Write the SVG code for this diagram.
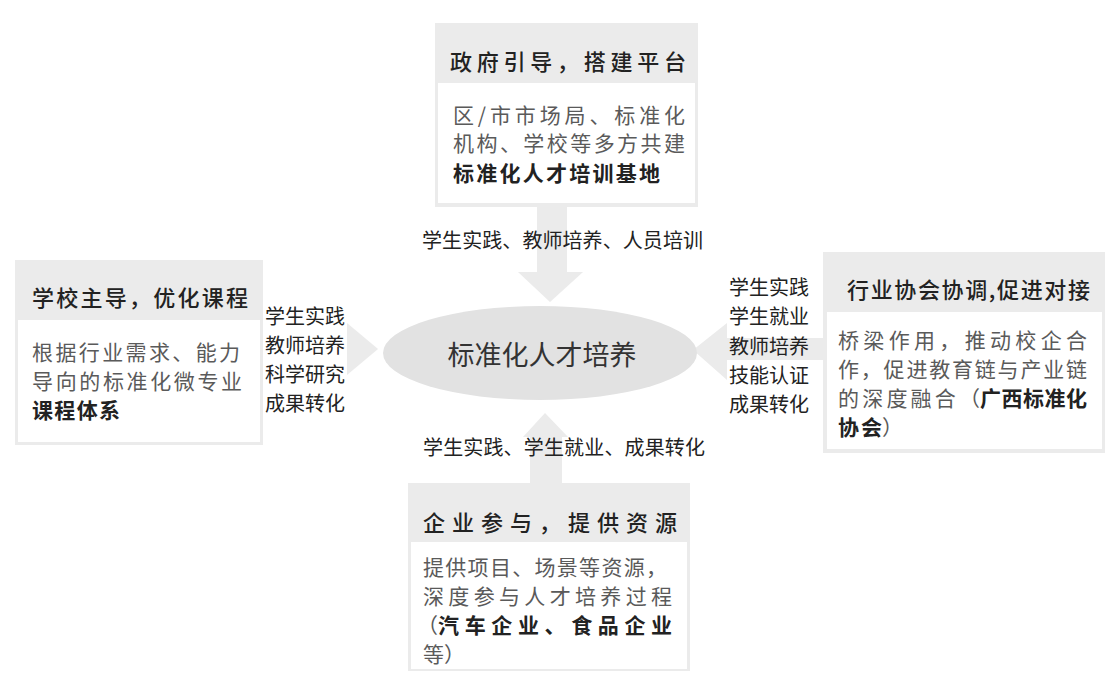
<svg xmlns="http://www.w3.org/2000/svg" width="1110" height="681" viewBox="0 0 1110 681">
<style>
text{font-family:"Noto Sans CJK SC","Noto Sans",sans-serif;}
.frame{fill:#ebebeb;}
.inner{fill:#ffffff;}
.hd{font-size:22px;font-weight:500;fill:#222;}
.bd{font-size:21px;font-weight:400;fill:#5a5a5a;}
.bb{font-size:21px;font-weight:700;fill:#222;}
.lb{font-size:20px;font-weight:400;fill:#222;}
.arrow{fill:#ebebeb;}
</style>
<rect width="1110" height="681" fill="#ffffff"/>
<g id="connectors">
  <polygon class="arrow" points="537,207 567,207 567,272 583,272 550,302 518,272 537,272"/>
  <polygon class="arrow" points="530,483 562,483 562,437 568,437 545,413 523,437 530,437"/>
  <polygon class="arrow" points="347,323 378,349 347,375"/>
  <polygon class="arrow" points="823,338 727,338 727,323 693,350 727,380 727,360 823,360"/>
</g>
<g id="center">
  <ellipse cx="540" cy="353" rx="157" ry="47" fill="#e2e2e2"/>
  <text x="542" y="365" text-anchor="middle" font-size="27" fill="#333">标准化人才培养</text>
</g>
<g id="labels">
  <text class="lb" x="422" y="248" textLength="281">学生实践、教师培养、人员培训</text>
  <text class="lb" x="423" y="455" textLength="282">学生实践、学生就业、成果转化</text>
  <text class="lb" x="265" y="324">学生实践</text>
  <text class="lb" x="265" y="353">教师培养</text>
  <text class="lb" x="265" y="382">科学研究</text>
  <text class="lb" x="265" y="411">成果转化</text>
  <text class="lb" x="729" y="295">学生实践</text>
  <text class="lb" x="729" y="324">学生就业</text>
  <text class="lb" x="729" y="354">教师培养</text>
  <text class="lb" x="729" y="383">技能认证</text>
  <text class="lb" x="729" y="412">成果转化</text>
</g>
<g id="node-top">
  <rect class="frame" x="435" y="23" width="263" height="184"/>
  <rect class="inner" x="438" y="83" width="257" height="120"/>
  <text class="hd" x="450" y="70" textLength="236">政府引导，搭建平台</text>
  <text class="bd" x="453" y="123" textLength="232">区/市市场局、标准化</text>
  <text class="bd" x="453" y="151" textLength="232">机构、学校等多方共建</text>
  <text class="bb" x="453" y="181" textLength="207">标准化人才培训基地</text>
</g>
<g id="node-left">
  <rect class="frame" x="15" y="260" width="248" height="185"/>
  <rect class="inner" x="18" y="320" width="242" height="122"/>
  <text class="hd" x="32" y="306" textLength="216">学校主导，优化课程</text>
  <text class="bd" x="32" y="360" textLength="208">根据行业需求、能力</text>
  <text class="bd" x="32" y="389" textLength="210">导向的标准化微专业</text>
  <text class="bb" x="32" y="418" textLength="88">课程体系</text>
</g>
<g id="node-right">
  <rect class="frame" x="823" y="252" width="282" height="201"/>
  <rect class="inner" x="827" y="312" width="275" height="137"/>
  <text class="hd" x="847" y="298" textLength="243" font-size="23">行业协会协调,促进对接</text>
  <text class="bd" x="838" y="348" textLength="249">桥梁作用，推动校企合</text>
  <text class="bd" x="838" y="377" textLength="249">作，促进教育链与产业链</text>
  <text class="bd" x="838" y="406" textLength="142">的深度融合（</text>
  <text class="bb" x="980" y="406" textLength="107">广西标准化</text>
  <text class="bb" x="838" y="435" textLength="44">协会</text>
  <text class="bd" x="882" y="435">）</text>
</g>
<g id="node-bottom">
  <rect class="frame" x="408" y="483" width="282" height="188"/>
  <rect class="inner" x="411" y="542" width="276" height="127"/>
  <text class="hd" x="423" y="531" textLength="254">企业参与，提供资源</text>
  <text class="bd" x="423" y="575" textLength="244">提供项目、场景等资源，</text>
  <text class="bd" x="423" y="604" textLength="249">深度参与人才培养过程</text>
  <text class="bd" x="417" y="633">（</text>
  <text class="bb" x="438" y="633" textLength="234">汽车企业、食品企业</text>
  <text class="bd" x="423" y="662">等）</text>
</g>
</svg>
